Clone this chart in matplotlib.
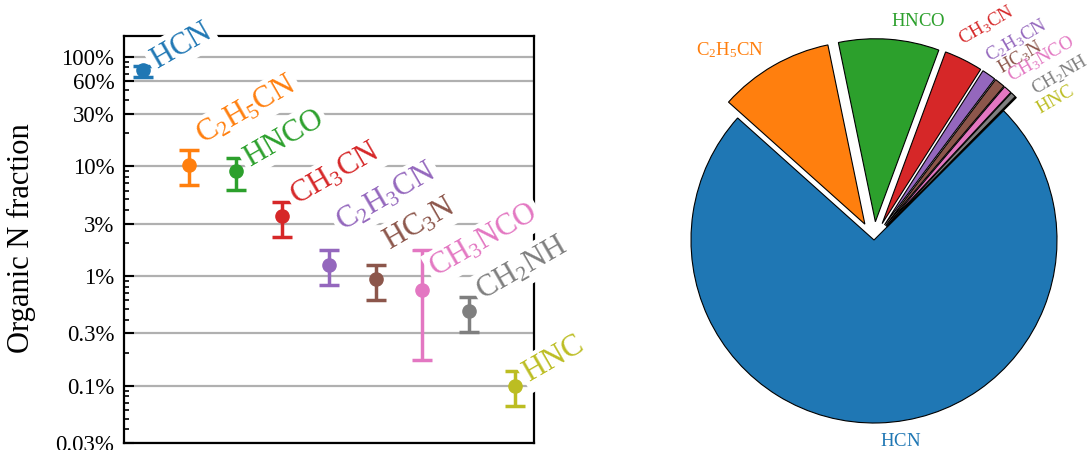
import numpy as np
import matplotlib
matplotlib.use("Agg")
import matplotlib.pyplot as plt
import matplotlib.ticker as ticker

plt.rcParams['font.family'] = ['Liberation Serif', 'DejaVu Serif']
plt.rcParams['mathtext.fontset'] = 'custom'
plt.rcParams['mathtext.rm'] = 'Liberation Serif'
plt.rcParams['mathtext.it'] = 'Liberation Serif:italic'

# species and their share of the organic nitrogen (central value, lower, upper)
species = ['HCN', 'C_2H_5CN', 'HNCO', 'CH_3CN', 'C_2H_3CN',
           'HC_3N', 'CH_3NCO', 'CH_2NH', 'HNC']
frac = [0.76, 0.104, 0.091, 0.035, 0.0127, 0.0094, 0.0075, 0.0048, 0.0010]
frac_lo = [0.66, 0.068, 0.061, 0.0228, 0.0083, 0.0061, 0.0017, 0.0031, 0.00065]
frac_hi = [0.83, 0.14, 0.12, 0.0475, 0.0173, 0.0126, 0.0173, 0.0065, 0.00135]

ytick_vals = [1, 0.6, 0.3, 0.1, 0.03, 0.01, 0.003, 0.001, 0.0003]
ytick_labels = ['100%', '60%', '30%', '10%', '3%', '1%', '0.3%', '0.1%', '0.03%']

labels = [r'$\mathrm{' + s + '}$' for s in species]
colors = ['C%d' % i for i in range(len(species))]

# vertical nudges (pixels) so the rotated names don't collide
label_dy = [1, 20, 4, 11, 33, 29, 12, 11, 3]

fig = plt.figure(figsize=(10.9, 4.5), dpi=100)

# ---- left: fractions with uncertainties on a log axis
ax = fig.add_axes([124 / 1090, 7 / 450, 410 / 1090, 407 / 450])
x = np.arange(len(species))
for i in range(len(species)):
    err = [[frac[i] - frac_lo[i]], [frac_hi[i] - frac[i]]]
    ax.errorbar(x[i], frac[i], yerr=err, fmt='o', color=colors[i],
                markersize=9.5, elinewidth=2.5, capsize=7, capthick=2.5, zorder=3)
    ax.annotate(labels[i], (x[i], frac[i]), xytext=(14, label_dy[i]),
                textcoords='offset pixels', rotation=30, rotation_mode='anchor',
                ha='left', va='baseline', fontsize=22, color=colors[i],
                bbox=dict(boxstyle='square,pad=0.12', fc='white', ec='none'),
                annotation_clip=False, zorder=5)

ax.set_yscale('log')
ax.set_ylim(3e-4, 1.55)
ax.set_xlim(-0.4, len(species) - 1 + 0.4)
ax.set_yticks(ytick_vals)
ax.set_yticklabels(ytick_labels)
ax.yaxis.set_minor_locator(ticker.LogLocator(base=10, subs=np.arange(2, 10)))
ax.yaxis.set_minor_formatter(ticker.NullFormatter())
ax.set_xticks([])
ax.tick_params(axis='y', which='major', direction='in', length=7, width=1.5,
               labelsize=16.5, pad=7, right=False)
ax.tick_params(axis='y', which='minor', direction='in', length=3.5, width=1.2)
ax.grid(axis='y', which='major', color='#b0b0b0', linewidth=1.6)
ax.set_axisbelow(True)
for sp in ax.spines.values():
    sp.set_linewidth(1.6)
ax.set_ylabel('Organic N fraction', fontsize=22)
ax.yaxis.set_label_coords(-0.215, 0.504)

# ---- right: the same fractions as a pie
ax2 = fig.add_axes([645.25 / 1090, -18.75 / 450, 457.5 / 1090, 457.5 / 450])
explode = [0] + [0.1] * (len(species) - 1)
wedges, texts = ax2.pie(frac, labels=labels, colors=colors, startangle=45,
                        counterclock=False, explode=explode,
                        wedgeprops=dict(edgecolor='black', linewidth=0.8),
                        textprops=dict(fontsize=13.5))
for t, c in zip(texts, colors):
    t.set_color(c)

# the thin slices get their names stacked and tilted
crowded = {3: (0.612, 1.175), 4: (0.781, 1.093), 5: (0.798, 1.0),
           6: (0.913, 0.989), 7: (1.016, 0.902), 8: (0.989, 0.765)}
for i, pos in crowded.items():
    texts[i].set_position(pos)
    texts[i].set_rotation(30)
    texts[i].set_ha('center')
    texts[i].set_va('center')

ax2.set_xlim(-1.25, 1.25)
ax2.set_ylim(-1.25, 1.25)

fig.savefig('out.png', dpi=100)
